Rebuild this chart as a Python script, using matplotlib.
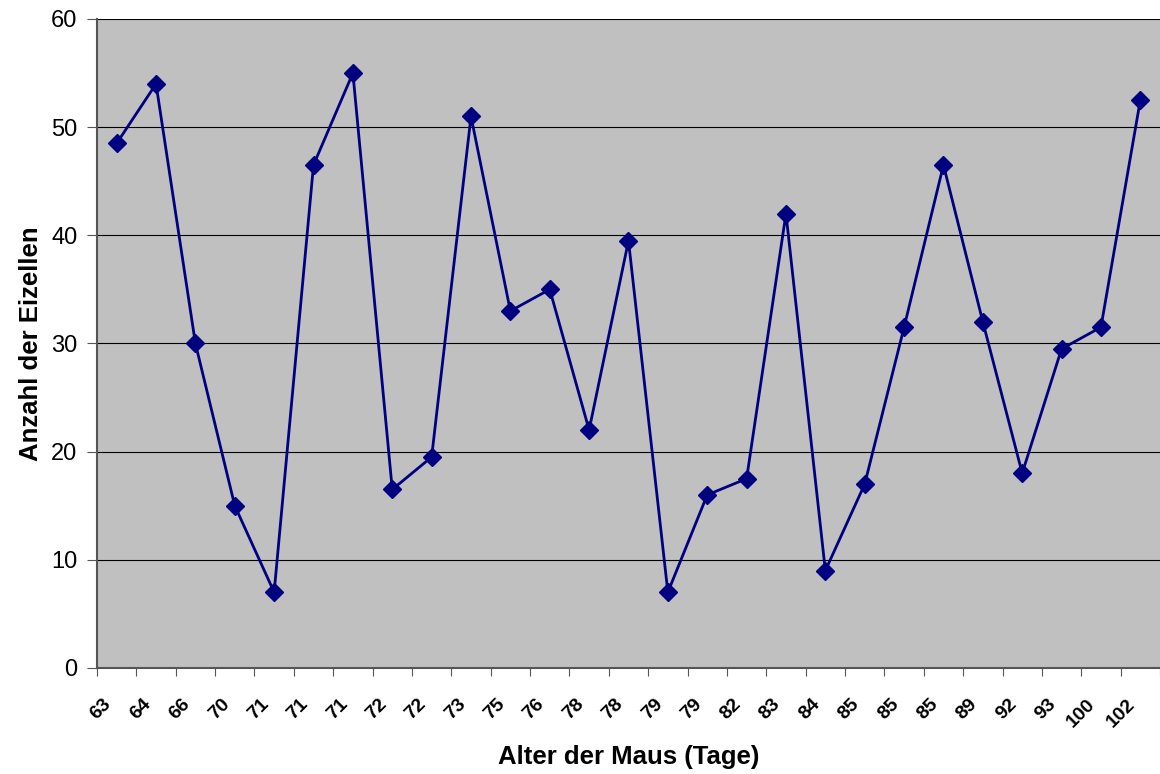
import numpy as np
import matplotlib.pyplot as plt
import matplotlib.transforms as mtransforms

plt.rcParams['font.family'] = ['Liberation Sans', 'DejaVu Sans']

# Alter der Maus (Tage) und Anzahl der Eizellen
ages = ['63', '64', '66', '70', '71', '71', '71', '72', '72', '73', '75', '76', '78', '78',
        '79', '79', '82', '83', '84', '85', '85', '85', '89', '92', '93', '100', '102']
eggs = [48.5, 54, 30, 15, 7, 46.5, 55, 16.5, 19.5, 51, 33, 35, 22, 39.5,
        7, 16, 17.5, 42, 9, 17, 31.5, 46.5, 32, 18, 29.5, 31.5, 52.5]

fig = plt.figure(figsize=(11.6, 7.74), dpi=100)
ax = fig.add_axes([0.0836, 0.137, 0.9164, 0.8385])
ax.set_facecolor('#c0c0c0')

x = np.arange(len(ages))
ax.plot(x, eggs, color='#000080', linewidth=2, marker='D', markersize=9.5, zorder=3)

ax.set_xlim(-0.5, len(ages) - 0.5)
ax.set_ylim(0, 60)
ax.set_yticks(np.arange(0, 61, 10))
ax.yaxis.grid(True, color='black', linewidth=0.8)
ax.set_axisbelow(True)

# ticks at category boundaries, labels in the middle
ax.set_xticks(np.arange(-0.5, len(ages), 1))
ax.set_xticklabels([])
ax.set_xticks(x, minor=True)
ax.set_xticklabels(ages, minor=True, rotation=45, ha='right', va='top',
                   rotation_mode='anchor', fontsize=14, fontweight='bold')
ax.tick_params(axis='x', which='minor', length=0, pad=20)
ax.tick_params(axis='x', which='major', length=6, color='#555555', direction='out')
ax.tick_params(axis='y', length=7, color='#555555', labelsize=17, pad=7)

# nudge rotated labels to the left
shift = mtransforms.ScaledTranslation(-14 / 100, 0, fig.dpi_scale_trans)
for lbl in ax.get_xticklabels(minor=True):
    lbl.set_transform(lbl.get_transform() + shift)

for s in ['top', 'right']:
    ax.spines[s].set_visible(False)
ax.spines['left'].set_color('#555555')
ax.spines['bottom'].set_color('#555555')
ax.spines['left'].set_linewidth(1.5)
ax.spines['bottom'].set_linewidth(1.5)

fig.text(0.5418, 0.022, 'Alter der Maus (Tage)', fontsize=18.5, fontweight='bold',
         ha='center', va='center')
ax.set_ylabel('Anzahl der Eizellen', fontsize=18.5, fontweight='bold', labelpad=6)

fig.savefig('out.png', dpi=100)
